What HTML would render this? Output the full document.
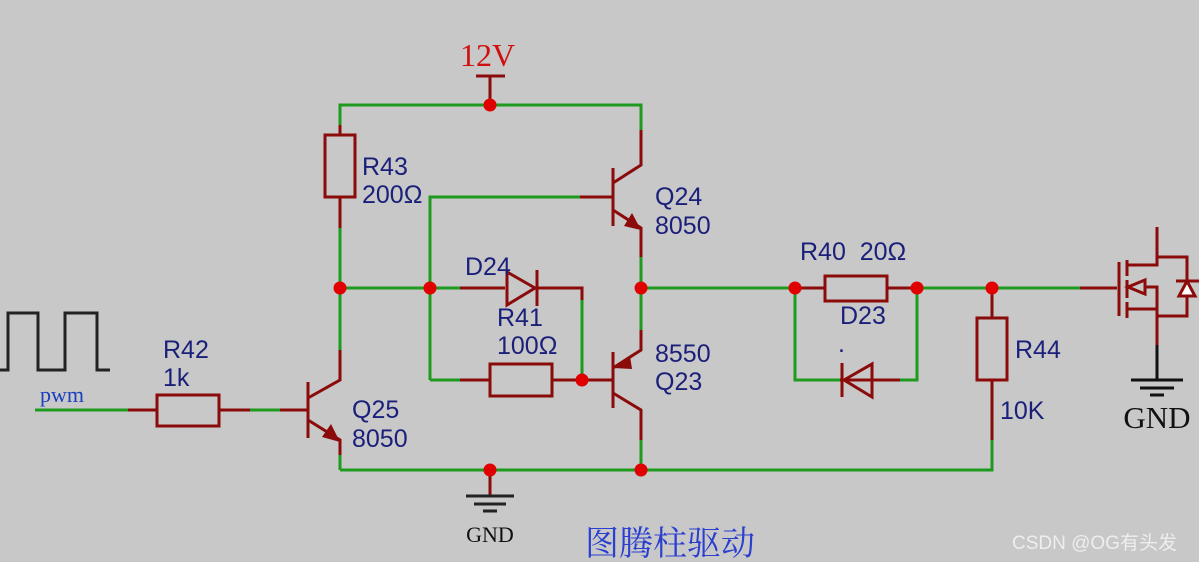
<!DOCTYPE html>
<html><head><meta charset="utf-8"><style>
html,body{margin:0;padding:0;background:#c8c8c8;}
svg{display:block}
.g{stroke:#1e9a1e;stroke-width:3;fill:none}
.r{stroke:#8b0a0a;stroke-width:3;fill:none}
.t{font-family:"Liberation Sans",sans-serif;font-size:25px;fill:#1a1f7a}
</style></head><body>
<svg width="1199" height="562" viewBox="0 0 1199 562" xmlns="http://www.w3.org/2000/svg">
<rect width="1199" height="562" fill="#c8c8c8"/>
<polyline points="0,370 8,370 8,313 38,313 38,370 65,370 65,313 97,313 97,370 110,370" fill="none" stroke="#222" stroke-width="3"/>
<text x="40" y="402" font-family="Liberation Serif,serif" font-size="22" fill="#1a3fbf">pwm</text>
<line class="g" x1="35" y1="410" x2="128" y2="410"/>
<line class="r" x1="128" y1="410" x2="157" y2="410"/>
<rect class="r" x="157" y="395" width="62" height="31"/>
<line class="r" x1="219" y1="410" x2="250" y2="410"/>
<line class="g" x1="250" y1="410" x2="280" y2="410"/>
<line class="r" x1="280" y1="410" x2="308" y2="410"/>
<text class="t" x="163" y="358">R42</text><text class="t" x="163" y="386">1k</text>
<text x="460" y="66" font-family="Liberation Serif,serif" font-size="32" fill="#d01010">12V</text>
<line class="r" x1="476" y1="76" x2="505" y2="76"/>
<line class="r" x1="490" y1="76" x2="490" y2="105"/>
<polyline class="g" points="340,125 340,105 641,105 641,130"/>
<line class="r" x1="340" y1="125" x2="340" y2="135"/>
<rect class="r" x="325" y="135" width="30" height="62"/>
<line class="r" x1="340" y1="197" x2="340" y2="228"/>
<line class="g" x1="340" y1="228" x2="340" y2="350"/>
<text class="t" x="362" y="175">R43</text><text class="t" x="362" y="203">200Ω</text>
<line class="r" x1="308" y1="382" x2="308" y2="438"/>
<polyline class="r" points="340,350 340,380 308,398"/>
<polyline class="r" points="308,420 340,440 340,455"/>
<polygon points="340,442 322,437 331,424" fill="#8b0a0a"/>
<line class="g" x1="340" y1="455" x2="340" y2="470"/>
<text class="t" x="352" y="418">Q25</text><text class="t" x="352" y="447">8050</text>
<polyline class="g" points="340,470 992,470 992,440"/>
<line class="r" x1="490" y1="470" x2="490" y2="496"/>
<line x1="466" y1="496" x2="514" y2="496" stroke="#222" stroke-width="3"/>
<line x1="474" y1="504" x2="506" y2="504" stroke="#222" stroke-width="3"/>
<line x1="483" y1="511" x2="497" y2="511" stroke="#222" stroke-width="3"/>
<text x="490" y="542" text-anchor="middle" font-family="Liberation Serif,serif" font-size="22" fill="#111">GND</text>
<line class="g" x1="340" y1="288" x2="460" y2="288"/>
<line class="r" x1="460" y1="288" x2="505" y2="288"/>
<polygon class="r" points="507,272 507,305 535,288"/>
<line class="r" x1="537" y1="270" x2="537" y2="306"/>
<polyline class="r" points="537,288 582,288 582,300"/>
<line class="g" x1="582" y1="300" x2="582" y2="380"/>
<text class="t" x="465" y="275">D24</text>
<polyline class="g" points="430,380 430,197 580,197"/>
<line class="r" x1="580" y1="197" x2="613" y2="197"/>
<line class="g" x1="430" y1="380" x2="460" y2="380"/>
<line class="r" x1="460" y1="380" x2="490" y2="380"/>
<rect class="r" x="490" y="364" width="62" height="32"/>
<line class="r" x1="552" y1="380" x2="613" y2="380"/>
<text class="t" x="497" y="326">R41</text><text class="t" x="497" y="354">100Ω</text>
<line class="r" x1="613" y1="168" x2="613" y2="226"/>
<polyline class="r" points="641,130 641,165 613,183"/>
<polyline class="r" points="613,210 641,228 641,257"/>
<polygon points="641,230 624,226 632,213" fill="#8b0a0a"/>
<line class="g" x1="641" y1="257" x2="641" y2="330"/>
<text class="t" x="655" y="205">Q24</text><text class="t" x="655" y="234">8050</text>
<line class="r" x1="613" y1="352" x2="613" y2="408"/>
<polyline class="r" points="641,330 641,350 613,368"/>
<polygon points="613,368 630,356 632,369" fill="#8b0a0a"/>
<polyline class="r" points="613,393 641,410 641,440"/>
<line class="g" x1="641" y1="440" x2="641" y2="470"/>
<text class="t" x="655" y="362">8550</text><text class="t" x="655" y="390">Q23</text>
<line class="g" x1="641" y1="288" x2="795" y2="288"/>
<line class="r" x1="795" y1="288" x2="825" y2="288"/>
<rect class="r" x="825" y="276" width="62" height="25"/>
<line class="r" x1="887" y1="288" x2="917" y2="288"/>
<text class="t" x="800" y="260">R40&#160;&#160;20Ω</text>
<polyline class="g" points="795,288 795,380 840,380"/>
<line class="r" x1="840" y1="380" x2="917" y2="380"/>
<line class="r" x1="842" y1="363" x2="842" y2="397"/>
<polygon class="r" points="844,380 872,364 872,397"/>
<polyline class="g" points="900,380 917,380 917,288"/>
<text class="t" x="840" y="324">D23</text>
<text class="t" x="838" y="352">.</text>
<line class="g" x1="917" y1="288" x2="1080" y2="288"/>
<line class="r" x1="1080" y1="288" x2="1117" y2="288"/>
<line class="r" x1="992" y1="288" x2="992" y2="318"/>
<rect class="r" x="977" y="318" width="30" height="62"/>
<line class="r" x1="992" y1="380" x2="992" y2="440"/>
<text class="t" x="1015" y="358">R44</text><text class="t" x="1000" y="419">10K</text>
<line class="r" x1="1119" y1="262" x2="1119" y2="316"/>
<line class="r" x1="1127" y1="260" x2="1127" y2="276"/>
<line class="r" x1="1127" y1="280" x2="1127" y2="298"/>
<line class="r" x1="1127" y1="302" x2="1127" y2="318"/>
<polyline class="r" points="1127,265 1157,265 1157,227"/>
<polyline class="r" points="1127,309 1157,309"/>
<polyline class="r" points="1145,287 1157,287 1157,345"/>
<polygon points="1128,287 1145,280 1145,294" fill="#c8c8c8" stroke="#8b0a0a" stroke-width="3"/>
<polyline class="r" points="1157,257 1187,257 1187,316 1157,316"/>
<polygon points="1187,281 1179,296 1195,296" fill="#fff" stroke="#8b0a0a" stroke-width="3"/>
<line class="r" x1="1176" y1="281" x2="1199" y2="281"/>
<line x1="1157" y1="345" x2="1157" y2="380" stroke="#111" stroke-width="3"/>
<line x1="1131" y1="380" x2="1183" y2="380" stroke="#111" stroke-width="3"/>
<line x1="1140" y1="388" x2="1174" y2="388" stroke="#111" stroke-width="3"/>
<line x1="1150" y1="395" x2="1164" y2="395" stroke="#111" stroke-width="3"/>
<text x="1157" y="428" text-anchor="middle" font-family="Liberation Serif,serif" font-size="31" fill="#111">GND</text>
<g fill="#e00000">
<circle cx="490" cy="105" r="6.5"/><circle cx="340" cy="288" r="6.5"/><circle cx="430" cy="288" r="6.5"/>
<circle cx="641" cy="288" r="6.5"/><circle cx="582" cy="380" r="6.5"/><circle cx="490" cy="470" r="6.5"/>
<circle cx="641" cy="470" r="6.5"/><circle cx="795" cy="288" r="6.5"/><circle cx="917" cy="288" r="6.5"/>
<circle cx="992" cy="288" r="6.5"/>
</g>
<text x="585" y="555" font-family="Liberation Serif,'Noto Serif CJK SC',serif" font-size="34" fill="#2a3fd0">图腾柱驱动</text>
<text x="1012" y="549" font-family="Liberation Sans,'Noto Sans CJK SC',sans-serif" font-size="19" fill="#eeeeee">CSDN @OG有头发</text>
</svg>
</body></html>
